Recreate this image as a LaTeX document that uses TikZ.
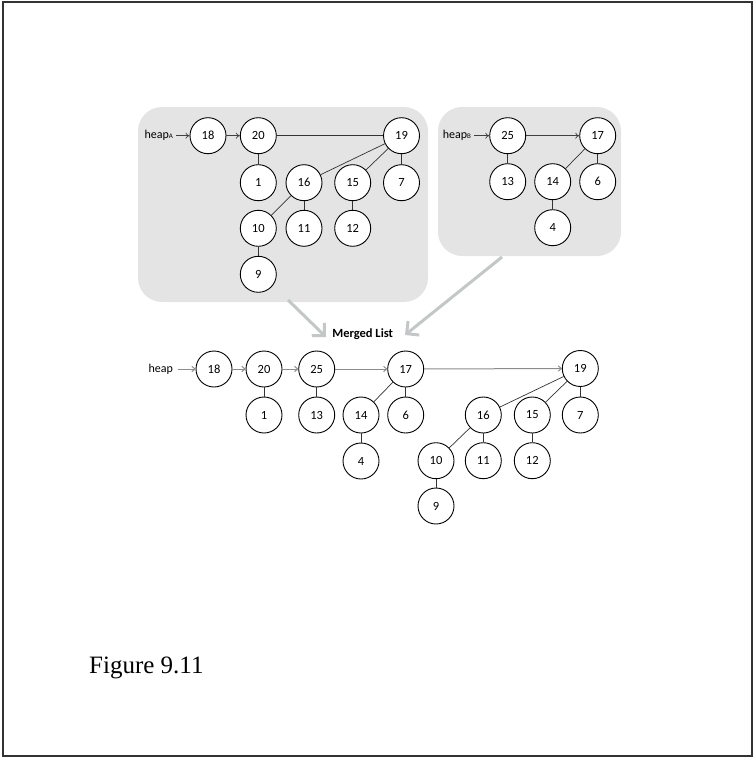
\documentclass[tikz,border=0pt]{standalone}
\usepackage{fontspec}
\setmainfont{Liberation Serif}
\newfontfamily\calib{Carlito}
\usetikzlibrary{arrows.meta}
\definecolor{panelgray}{HTML}{E4E4E4}
\definecolor{biggray}{HTML}{C3C7C7}
\definecolor{linkgray}{HTML}{8C8C8C}
\tikzset{
  hn/.style={circle, draw=black, line width=0.9pt, fill=white, minimum size=36pt, inner sep=0pt, font=\calib\fontsize{12.5}{12.5}\selectfont},
  lbl/.style={inner sep=0pt, outer sep=3pt, font=\calib\fontsize{12}{12}\selectfont},
  tree/.style={draw=black!80, line width=0.7pt},
  link/.style={draw=black!75, line width=0.7pt, -{To[length=4pt,width=6pt]}},
  mlink/.style={draw=linkgray, line width=1pt, -{To[length=4pt,width=6pt]}},
  big/.style={draw=biggray, line width=3pt, -{Straight Barb[length=9pt,width=18pt]}},
  panel/.style={fill=panelgray, draw=none, rounded corners=24pt}
}
\begin{document}
\begin{tikzpicture}[x=1pt,y=-1pt]
\useasboundingbox (0,0) rectangle (753,757);
\draw[black!80, line width=1.2pt] (3,2) rectangle (752,756);
% panels
\fill[panel] (138,107) rectangle (428,302);
\fill[panel] (438,107) rectangle (621,256);
% big arrows
\coordinate (aS) at (288,300);
\coordinate (aT) at (326,337);
\coordinate (bS) at (502,257);
\coordinate (bT) at (405,335);
\draw[big] (aS) -- (aT);
\draw[big] (bS) -- (bT);
% heap A
\node[lbl, anchor=east] (hA) at (176,135.7) {heap{\fontsize{7}{7}\selectfont A}};
\node[hn] (a18) at (208,135.7) {18};
\node[hn] (a20) at (258.3,135.7) {20};
\node[hn] (a19) at (401.5,135.7) {19};
\node[hn] (a1) at (258.3,182.7) {1};
\node[hn] (a16) at (304,182.7) {16};
\node[hn] (a15) at (352.7,182.7) {15};
\node[hn] (a7) at (401.5,182.7) {7};
\node[hn] (a10) at (258.3,228.3) {10};
\node[hn] (a11) at (304,228.3) {11};
\node[hn] (a12) at (352.7,228.3) {12};
\node[hn] (a9) at (258.3,274.3) {9};
\draw[link] (hA) -- (a18);
\draw[link] (a18) -- (a20);
\draw[tree] (a20) -- (a19);
\draw[tree] (a20) -- (a1);
\draw[tree] (a19) -- (a16);
\draw[tree] (a19) -- (a15);
\draw[tree] (a19) -- (a7);
\draw[tree] (a16) -- (a10);
\draw[tree] (a16) -- (a11);
\draw[tree] (a15) -- (a12);
\draw[tree] (a10) -- (a9);
% heap B
\node[lbl, anchor=east] (hB) at (474,135.7) {heap{\fontsize{7}{7}\selectfont B}};
\node[hn] (b25) at (507.7,135.7) {25};
\node[hn] (b17) at (597.7,135.7) {17};
\node[hn] (b13) at (507.7,181.7) {13};
\node[hn] (b14) at (552.7,181.7) {14};
\node[hn] (b6) at (597.7,181.7) {6};
\node[hn] (b4) at (552.7,227.7) {4};
\draw[link] (hB) -- (b25);
\draw[link] (b25) -- (b17);
\draw[tree] (b25) -- (b13);
\draw[tree] (b17) -- (b14);
\draw[tree] (b17) -- (b6);
\draw[tree] (b14) -- (b4);
% merged
\node[lbl, font=\calib\bfseries\fontsize{12.5}{12.5}\selectfont] (ml) at (362.7,334.3) {Merged List};
\node[lbl, anchor=east, outer sep=5pt] (h) at (178,369) {heap};
\node[hn] (m18) at (214,369) {18};
\node[hn] (m20) at (264,369) {20};
\node[hn] (m25) at (316.7,369) {25};
\node[hn] (m17) at (405.7,369) {17};
\node[hn] (m19) at (580.3,368.5) {19};
\node[hn] (m1) at (264,415) {1};
\node[hn] (m13) at (316.7,415) {13};
\node[hn] (m14) at (361,415) {14};
\node[hn] (m6) at (405.7,415) {6};
\node[hn] (m4) at (361,461) {4};
\node[hn] (m16) at (483.3,415) {16};
\node[hn] (m15) at (532.3,415) {15};
\node[hn] (m7) at (580.3,415) {7};
\node[hn] (m10) at (436,460.7) {10};
\node[hn] (m11) at (483.3,460.7) {11};
\node[hn] (m12) at (532.3,460.7) {12};
\node[hn] (m9) at (436,506) {9};
\draw[mlink] (h) -- (m18);
\draw[mlink] (m18) -- (m20);
\draw[mlink] (m20) -- (m25);
\draw[mlink] (m25) -- (m17);
\draw[mlink] (m17) -- (m19);
\draw[tree] (m20) -- (m1);
\draw[tree] (m25) -- (m13);
\draw[tree] (m17) -- (m14);
\draw[tree] (m17) -- (m6);
\draw[tree] (m14) -- (m4);
\draw[tree] (m19) -- (m16);
\draw[tree] (m19) -- (m15);
\draw[tree] (m19) -- (m7);
\draw[tree] (m16) -- (m10);
\draw[tree] (m16) -- (m11);
\draw[tree] (m15) -- (m12);
\draw[tree] (m10) -- (m9);
% caption
\node[inner sep=0pt, anchor=base west, font=\fontsize{25}{25}\selectfont] (cap) at (89,673) {Figure 9.11};
\end{tikzpicture}
\end{document}
